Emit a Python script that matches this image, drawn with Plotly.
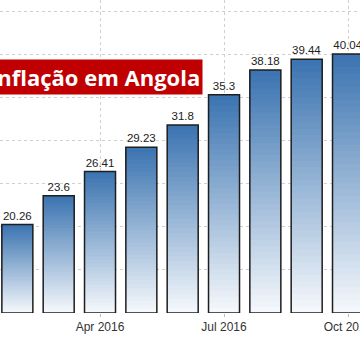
import plotly.graph_objects as go

months = ["Feb 2016", "Mar 2016", "Apr 2016", "May 2016", "Jun 2016",
          "Jul 2016", "Aug 2016", "Sep 2016", "Oct 2016"]
inflation = [20.26, 23.6, 26.41, 29.23, 31.8, 35.3, 38.18, 39.44, 40.04]
tick_labels = ["Apr 2016", "Jul 2016", "Oct 2016"]
tick_months = ["Apr 2016", "Jul 2016", "Oct 2016"]
title_text = "Inflação em Angola"

axis_base = 10
idx = list(range(len(months)))
tick_idx = [months.index(m) for m in tick_months]

top_rgb = (58, 115, 176)
bot_rgb = (246, 249, 252)
N = 40
BAR_W = 0.75
LABEL_FONT = "Liberation Sans, Arial, sans-serif"

fig = go.Figure()
for i in range(N):
    t = (i + 0.5) / N  # 0 bottom -> 1 top
    c = tuple(round(bot_rgb[k] + (top_rgb[k] - bot_rgb[k]) * t) for k in range(3))
    fig.add_trace(go.Bar(
        x=idx,
        y=[(v - axis_base) * (1 - i / N) for v in inflation],
        base=[axis_base + (v - axis_base) * i / N for v in inflation],
        width=BAR_W,
        marker=dict(color="rgb(%d,%d,%d)" % c, line=dict(width=0)),
        hoverinfo="skip", showlegend=False,
    ))

fig.add_trace(go.Bar(
    x=idx,
    y=[v - axis_base for v in inflation],
    base=axis_base,
    width=BAR_W,
    marker=dict(color="rgba(0,0,0,0)", line=dict(color="#1e1e1e", width=1.5)),
    text=[("%g" % v) for v in inflation],
    textposition="outside",
    textfont=dict(family=LABEL_FONT, size=11.5, color="#222222"),
    cliponaxis=False,
    hoverinfo="skip", showlegend=False,
))

fig.add_annotation(
    text="<b>%s</b>" % title_text,
    xref="paper", yref="paper",
    x=203 / 360, xanchor="right",
    y=1 - 77 / 313, yanchor="middle",
    showarrow=False,
    font=dict(family="Open Sans, Noto Sans, sans-serif", size=22, color="white"),
    bgcolor="#c00000",
    borderpad=2,
)

fig.update_layout(
    width=360, height=360,
    margin=dict(l=0, r=0, t=0, b=47),
    paper_bgcolor="white", plot_bgcolor="white",
    barmode="overlay",
    showlegend=False,
    xaxis=dict(
        range=[-0.42, 8.29],
        tickmode="array", tickvals=tick_idx, ticktext=tick_labels,
        showgrid=True, gridcolor="#cfcfcf", griddash="dot", gridwidth=1,
        ticks="outside", ticklen=3, tickcolor="#bbbbbb",
        tickfont=dict(family=LABEL_FONT, size=12, color="#333333"),
        ticklabeloverflow="allow",
        showline=False, zeroline=False, automargin=False,
    ),
    yaxis=dict(
        range=[axis_base, 46.3],
        tickmode="linear", tick0=10, dtick=5,
        showgrid=True, gridcolor="#cfcfcf", griddash="dot", gridwidth=1,
        showticklabels=False, showline=False, zeroline=False,
    ),
)

fig.write_html("out.html",
               config={"displayModeBar": False},
               post_script="document.body.style.margin='0';document.body.style.padding='0';")
